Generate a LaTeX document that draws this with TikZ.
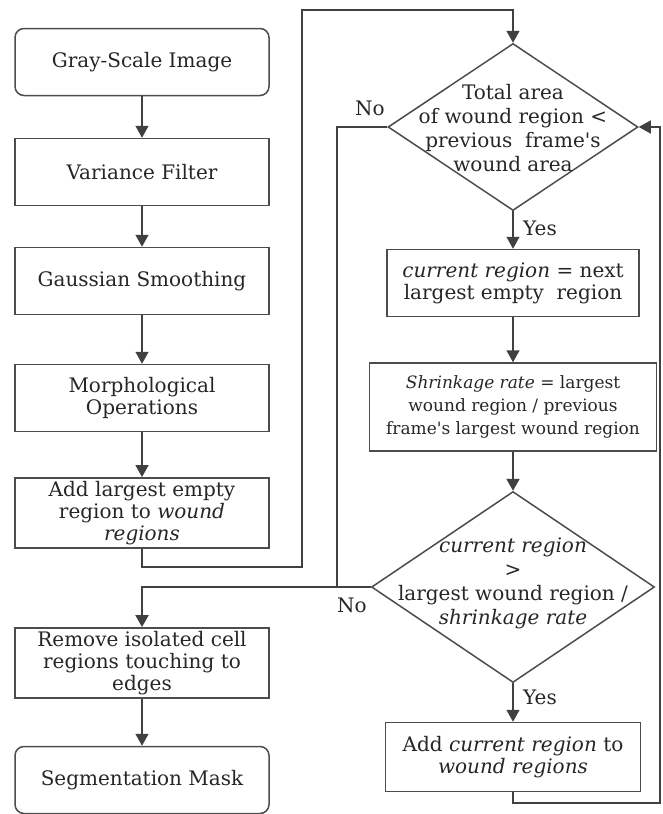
\documentclass[tikz,border=0pt]{standalone}
\usepackage{fontspec}
\setmainfont{DejaVu Serif}
\usepackage{tikz}
\usetikzlibrary{positioning}
\usetikzlibrary{shapes.geometric}
\usetikzlibrary{arrows.meta}
\usepackage{xcolor}

\tikzset{
    box/.style={rectangle, draw=black!70, line width=1.5pt, minimum width=254pt, minimum height=67pt, align=center, text=black!85, font=\fontsize{20}{22}\selectfont},
    term/.style={box, rounded corners=9pt},
    dec/.style={diamond, draw=black!70, line width=1.5pt, inner sep=0pt},
    dectext/.style={align=center, text=black!85, font=\fontsize{20}{24}\selectfont},
    lbl/.style={text=black!85, font=\fontsize{20}{22}\selectfont},
    arr/.style={draw=black!75, line width=1.5pt, -{Triangle[width=13pt,length=12pt]}},
    line/.style={draw=black!75, line width=1.5pt}
}

\begin{document}
\begin{tikzpicture}[x=1pt, y=-1pt]
    \useasboundingbox (0,0) rectangle (662,814);

    % Left column
    \node[term] (gray) at (142,62) {Gray-Scale Image};
    \node[box] (var) at (142,172) {Variance Filter};
    \node[box] (gauss) at (142,281) {Gaussian Smoothing};
    \node[box] (morph) at (142,398) {Morphological\\Operations};
    \node[box] (addlarge) at (142,513) {Add largest empty\\region to \textit{wound}\\\textit{regions}};
    \node[box] (remove) at (142,663) {Remove isolated cell\\regions touching to\\edges};
    \node[term] (mask) at (142,780) {Segmentation Mask};

    % Right column
    \node[dec, minimum width=250pt, minimum height=167pt] (d1) at (513,127) {};
    \node[dectext] (d1txt) at (513,128) {Total area\\of wound region <\\previous\ \ frame\textquotesingle s\\wound area};
    \node[box, minimum width=252pt] (cur) at (513,283) {\textit{current region} = next\\largest empty\ \ region};
    \node[box, minimum width=287pt, minimum height=88pt, font=\fontsize{17}{23}\selectfont] (shrink) at (513,407) {\textit{Shrinkage rate} = largest\\wound region / previous\\frame\textquotesingle s largest wound region};
    \node[dec, minimum width=283pt, minimum height=191pt] (d2) at (513,587) {};
    \node[dectext] (d2txt) at (513,583) {\textit{current region}\\>\\largest wound region /\\\textit{shrinkage rate}};
    \node[box, minimum width=255pt, minimum height=69pt] (addcur) at (513,757) {Add \textit{current region} to\\\textit{wound regions}};

    % Bend points
    \coordinate (b1) at (302,567);
    \coordinate (b2) at (513,10);
    \coordinate (b3) at (337,587);
    \coordinate (b4) at (660,803);

    % Connections
    \foreach \a/\b in {gray/var, var/gauss, gauss/morph, morph/addlarge, remove/mask} {
        \draw[arr] (\a) -- (\b);
    }
    \draw[arr] (addlarge.south) |- (b1) |- (b2) -- (d1.north);
    \draw[arr] (d1.south) -- (cur.north);
    \draw[arr] (cur.south) -- (shrink.north);
    \draw[arr, line width=2pt] (shrink.south) -- (d2.north);
    \draw[arr] (d2.south) -- (addcur.north);
    \draw[line] (d1.west) -| (b3);
    \draw[arr, line width=2pt] (d2.west) -| (remove.north);
    \draw[arr] (addcur.south) |- (b4) |- (d1.east);

    % Labels
    \node[lbl] (no1) at (370,108) {No};
    \node[lbl] (yes1) at (540,228) {Yes};
    \node[lbl] (no2) at (352,605) {No};
    \node[lbl] (yes2) at (540,697) {Yes};
\end{tikzpicture}
\end{document}
